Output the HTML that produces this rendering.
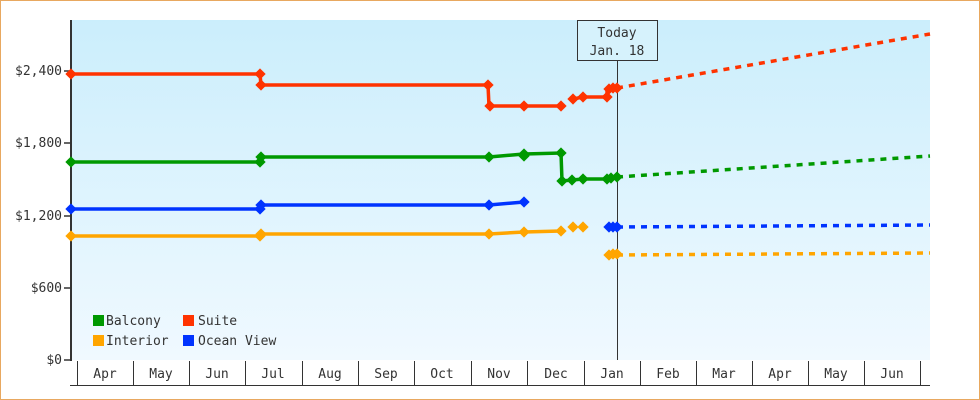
<!DOCTYPE html>
<html><head><meta charset="utf-8"><style>
body{margin:0;background:#fff}
svg{display:block}
text{font-family:"DejaVu Sans Mono","Liberation Mono",monospace;font-size:13px;fill:#333}
</style></head><body>
<svg width="980" height="400" viewBox="0 0 980 400" xmlns="http://www.w3.org/2000/svg">
<defs>
<linearGradient id="bg" x1="0" y1="0" x2="0" y2="1"><stop offset="0" stop-color="#cbeefc"/><stop offset="1" stop-color="#f0f9ff"/></linearGradient>
<g id="d"><rect x="-4" y="-4" width="8" height="8" transform="rotate(45)"/></g>
</defs>
<rect x="0.5" y="0.5" width="979" height="399" fill="#fff" stroke="#e8a860"/>
<rect x="71" y="20" width="859" height="340" fill="url(#bg)"/>
<g stroke="#333" stroke-width="1.5">
<line x1="71" y1="20" x2="71" y2="361" stroke-width="2"/>
<line x1="64" y1="71" x2="71" y2="71"/><line x1="64" y1="143" x2="71" y2="143"/><line x1="64" y1="216" x2="71" y2="216"/><line x1="64" y1="288" x2="71" y2="288"/><line x1="64" y1="360" x2="71" y2="360"/>
</g>
<g text-anchor="end">
<text x="62" y="75">$2,400</text><text x="62" y="147">$1,800</text><text x="62" y="220">$1,200</text><text x="62" y="292">$600</text><text x="62" y="364">$0</text>
</g>
<g stroke="#333" stroke-width="1">
<line x1="70" y1="385.5" x2="930" y2="385.5"/>
<line x1="77.5" y1="361" x2="77.5" y2="385"/><line x1="133.5" y1="361" x2="133.5" y2="385"/><line x1="189.5" y1="361" x2="189.5" y2="385"/><line x1="245.5" y1="361" x2="245.5" y2="385"/><line x1="302.5" y1="361" x2="302.5" y2="385"/><line x1="358.5" y1="361" x2="358.5" y2="385"/><line x1="414.5" y1="361" x2="414.5" y2="385"/><line x1="471.5" y1="361" x2="471.5" y2="385"/><line x1="527.5" y1="361" x2="527.5" y2="385"/><line x1="584.5" y1="361" x2="584.5" y2="385"/><line x1="640.5" y1="361" x2="640.5" y2="385"/><line x1="696.5" y1="361" x2="696.5" y2="385"/><line x1="752.5" y1="361" x2="752.5" y2="385"/><line x1="808.5" y1="361" x2="808.5" y2="385"/><line x1="864.5" y1="361" x2="864.5" y2="385"/><line x1="920.5" y1="361" x2="920.5" y2="385"/>
</g>
<g text-anchor="middle">
<text x="105" y="378">Apr</text><text x="161" y="378">May</text><text x="217" y="378">Jun</text><text x="273" y="378">Jul</text><text x="330" y="378">Aug</text><text x="386" y="378">Sep</text><text x="442" y="378">Oct</text><text x="499" y="378">Nov</text><text x="556" y="378">Dec</text><text x="612" y="378">Jan</text><text x="668" y="378">Feb</text><text x="724" y="378">Mar</text><text x="780" y="378">Apr</text><text x="836" y="378">May</text><text x="892" y="378">Jun</text>
</g>
<line x1="617.5" y1="60" x2="617.5" y2="360" stroke="#333"/>
<rect x="577.5" y="20.5" width="80" height="40" fill="#d6f2fc" stroke="#333"/>
<text x="617" y="37" text-anchor="middle">Today</text><text x="617" y="55" text-anchor="middle">Jan. 18</text>
<g fill="none" stroke-width="3.5">
<polyline stroke="#ff3300" points="71,74 260,74 261,85 488,85 489,106 561,106"/>
<polyline stroke="#ff3300" points="573,99 583,97 607,97 607,89 617,88"/>
<polyline stroke="#ff3300" stroke-dasharray="6,6" points="617,88 930,34"/>
<polyline stroke="#009900" points="71,162 260,162 261,157 489,157 524,154 561,153 562,181 572,180 583,179 607,179 617,177"/>
<polyline stroke="#009900" stroke-dasharray="6,6" points="617,177 930,156"/>
<polyline stroke="#0033ff" points="71,209 260,209 261,205 489,205 524,202"/>
<polyline stroke="#0033ff" points="609,227 617,227"/>
<polyline stroke="#0033ff" stroke-dasharray="6,6" points="617,227 930,225"/>
<polyline stroke="#ffa500" points="71,236 260,236 261,234 489,234 524,232 561,231"/>
<polyline stroke="#ffa500" points="609,255 617,255"/>
<polyline stroke="#ffa500" stroke-dasharray="6,6" points="617,255 930,253"/>
</g>
<g fill="#ff3300"><use href="#d" x="71" y="74"/><use href="#d" x="260" y="74"/><use href="#d" x="261" y="85"/><use href="#d" x="488" y="85"/><use href="#d" x="490" y="106"/><use href="#d" x="524" y="106"/><use href="#d" x="561" y="106"/><use href="#d" x="573" y="99"/><use href="#d" x="583" y="97"/><use href="#d" x="607" y="97"/><use href="#d" x="609" y="89"/><use href="#d" x="613" y="88"/><use href="#d" x="617" y="88"/></g>
<g fill="#009900"><use href="#d" x="71" y="162"/><use href="#d" x="260" y="162"/><use href="#d" x="261" y="157"/><use href="#d" x="489" y="157"/><use href="#d" x="524" y="154"/><use href="#d" x="524" y="156"/><use href="#d" x="561" y="153"/><use href="#d" x="562" y="181"/><use href="#d" x="572" y="180"/><use href="#d" x="583" y="179"/><use href="#d" x="607" y="179"/><use href="#d" x="611" y="178"/><use href="#d" x="617" y="177"/></g>
<g fill="#0033ff"><use href="#d" x="71" y="209"/><use href="#d" x="260" y="209"/><use href="#d" x="261" y="205"/><use href="#d" x="489" y="205"/><use href="#d" x="524" y="202"/><use href="#d" x="609" y="227"/><use href="#d" x="613" y="227"/><use href="#d" x="617" y="227"/></g>
<g fill="#ffa500"><use href="#d" x="71" y="236"/><use href="#d" x="260" y="236"/><use href="#d" x="261" y="234"/><use href="#d" x="489" y="234"/><use href="#d" x="524" y="232"/><use href="#d" x="561" y="231"/><use href="#d" x="573" y="227"/><use href="#d" x="583" y="227"/><use href="#d" x="609" y="255"/><use href="#d" x="613" y="254"/><use href="#d" x="617" y="254"/></g>
<rect x="93" y="315" width="11" height="11" fill="#009900"/><text x="106" y="325">Balcony</text>
<rect x="183" y="315" width="11" height="11" fill="#ff3300"/><text x="198" y="325">Suite</text>
<rect x="93" y="335" width="11" height="11" fill="#ffa500"/><text x="106" y="345">Interior</text>
<rect x="183" y="335" width="11" height="11" fill="#0033ff"/><text x="198" y="345">Ocean View</text>
</svg>
</body></html>
